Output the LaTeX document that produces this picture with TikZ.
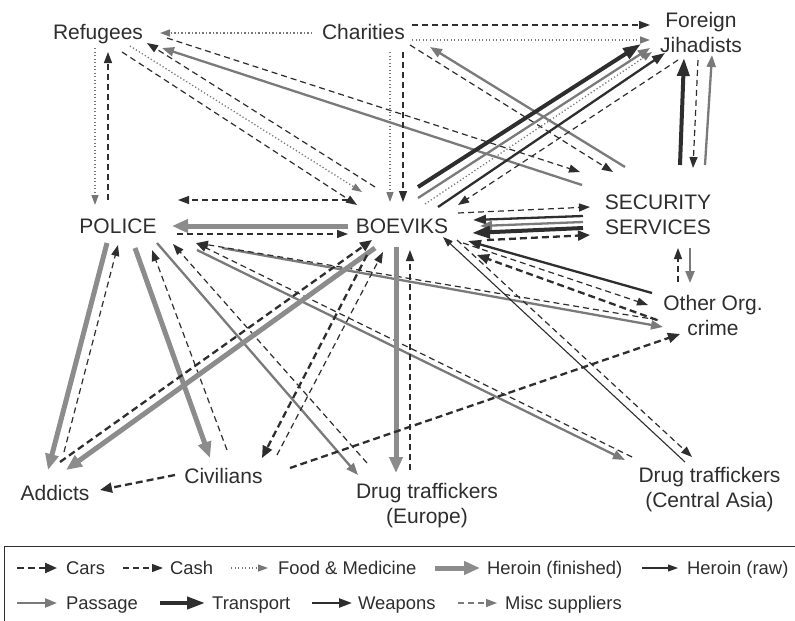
\documentclass[tikz,border=0pt]{standalone}
\usepackage{fontspec}
\setmainfont{Liberation Sans}
\usetikzlibrary{calc,arrows.meta}
\definecolor{dk}{HTML}{2E2E2E}
\definecolor{gh}{HTML}{8C8C8C}
\definecolor{gp}{HTML}{7A7A7A}
\definecolor{gf}{HTML}{777777}
\newcommand\cx[5]{\draw[#1] ($(#2)+(#3)$) -- ($(#4)+(#5)$);}
\begin{document}
\begin{tikzpicture}[x=1pt,y=-1pt,
  lbl/.style={inner sep=0pt,text=dk,font=\fontsize{21}{25}\selectfont},
  one/.style={lbl,anchor=base,text height=15.4pt,text depth=4.4pt},
  two/.style={lbl,align=center},
  cars/.style={dk,line width=2.3pt,dash pattern=on 7pt off 4pt,-{Triangle[length=12pt,width=10pt]}},
  cash/.style={dk,line width=1.2pt,dash pattern=on 6pt off 4pt,-{Triangle[length=11pt,width=8pt]}},
  food/.style={gf,line width=1.3pt,dash pattern=on 1.2pt off 2.3pt,-{Triangle[length=10pt,width=7pt]}},
  heroin/.style={gh,line width=5pt,-{Triangle[length=16pt,width=13pt]}},
  raw/.style={dk,line width=1.1pt,-{Triangle[length=10pt,width=7pt]}},
  passage/.style={gp,line width=2.3pt,-{Triangle[length=12pt,width=9pt]}},
  transport/.style={dk,line width=4pt,-{Triangle[length=18pt,width=12pt]}},
  weapons/.style={dk,line width=2.3pt,-{Triangle[length=13pt,width=9pt]}},
  misc/.style={gp,line width=1.2pt,dash pattern=on 6pt off 4pt,-{Triangle[length=11pt,width=8pt]}},
  leg/.style={inner sep=0pt,anchor=base west,text=dk,font=\fontsize{18.4}{22}\selectfont}]
\useasboundingbox (0,0) rectangle (795,621);
\fill[white] (0,0) rectangle (795,621);
% nodes
\node[one] (ref) at (98,39) {Refugees};
\node[one] (cha) at (363.5,39) {Charities};
\node[one] (pol) at (118,233) {POLICE};
\node[one] (boe) at (402,233) {BOEVIKS};
\node[one] (add) at (55,500) {Addicts};
\node[one] (civ) at (223.5,483) {Civilians};
\node[two] (fj) at (701,32) {Foreign\\Jihadists};
\node[two] (sec) at (658,215) {SECURITY\\SERVICES};
\node[two] (oth) at (713,315) {Other Org.\\crime};
\node[two] (dte) at (427,506) {Drug traffickers\\(Europe)};
\node[two] (dtc) at (709.5,490) {Drug traffickers\\(Central Asia)};
% connectors
\cx{food}{cha}{-51.5,-0.5}{ref}{62,-0.5}
\cx{food}{ref}{-3,14.5}{pol}{-23,-22.5}
\cx{cash}{pol}{-10,-27.5}{ref}{10,18.5}
\cx{cash}{ref}{24,18.5}{boe}{-45,-22.5}
\cx{food}{ref}{32,12.5}{boe}{-40,-35.5}
\cx{cash}{boe}{-27,-40.5}{ref}{49,9.5}
\cx{passage}{sec}{-76,-30}{ref}{64,14.5}
\cx{cash}{ref}{69,4.5}{sec}{-78,-43}
\cx{cash}{cha}{48.5,-8.5}{fj}{-51,-7}
\cx{food}{cha}{48.5,6.5}{fj}{-51,8}
\cx{food}{cha}{26.5,18.5}{boe}{-12,-25.5}
\cx{cash}{cha}{39.5,18.5}{boe}{1,-25.5}
\cx{cash}{cha}{46.5,11.5}{sec}{-45,-43}
\cx{passage}{sec}{-33,-48}{cha}{66.5,13.5}
\cx{transport}{boe}{16,-40.5}{fj}{-60,12}
\cx{passage}{boe}{16,-29.5}{fj}{-51,16}
\cx{food}{boe}{23,-23.5}{fj}{-49,20}
\cx{weapons}{boe}{36,-20.5}{fj}{-36,21}
\cx{cash}{fj}{-23,28}{boe}{56,-22.5}
\cx{transport}{sec}{22,-50}{fj}{-17,26}
\cx{cash}{fj}{-3,28}{sec}{35,-47}
\cx{passage}{sec}{47,-50}{fj}{11,23}
\cx{cash}{boe}{56,-14.5}{sec}{-68,-8}
\cx{weapons}{sec}{-75,1}{boe}{71,-7.5}
\cx{passage}{sec}{-75,7}{boe}{78,-1.5}
\cx{transport}{sec}{-75,13}{boe}{70,5.5}
\cx{cars}{boe}{85,12.5}{sec}{-68,20}
\cx{cash}{oth}{-35,-33}{sec}{20,33}
\cx{passage}{sec}{32,33}{oth}{-23,-32}
\cx{weapons}{oth}{-61,-22}{boe}{66,13.5}
\cx{cash}{boe}{61,15.5}{oth}{-65,-10}
\cx{cars}{oth}{-56,5}{boe}{75,27.5}
\cx{passage}{pol}{104,20.5}{oth}{-50,12}
\cx{cash}{oth}{-55,5}{pol}{79,15.5}
\cx{heroin}{pol}{-11,15.5}{add}{-7,-24.5}
\cx{cash}{add}{9,-42.5}{pol}{0,17.5}
\cx{heroin}{pol}{17,20.5}{civ}{-13.5,-19.5}
\cx{cash}{civ}{3.5,-27.5}{pol}{34,22.5}
\cx{passage}{pol}{39,15.5}{dte}{-69,-31}
\cx{cash}{dte}{-60,-43}{pol}{55,16.5}
\cx{passage}{pol}{79,22.5}{dtc}{-84.5,-30}
\cx{cash}{dtc}{-77.5,-33}{pol}{78,15.5}
\cx{cash}{boe}{-54,-27.5}{pol}{60,-27.5}
\cx{heroin}{boe}{-54,-1.5}{pol}{54,-1.5}
\cx{cash}{pol}{59,6.5}{boe}{-54,6.5}
\cx{cars}{add}{5,-32.5}{boe}{-30,12.5}
\cx{heroin}{boe}{-27,20.5}{add}{11,-24.5}
\cx{cars}{boe}{-35,27.5}{civ}{38.5,-19.5}
\cx{cash}{civ}{53.5,-22.5}{boe}{-19,24.5}
\cx{heroin}{boe}{-6,19.5}{dte}{-31,-33}
\cx{cash}{dte}{-17,-36}{boe}{8,22.5}
\cx{raw}{dtc}{-24.5,-28}{boe}{41,9.5}
\cx{cash}{boe}{55,12.5}{dtc}{-17.5,-33}
\cx{cars}{civ}{-48.5,-2.5}{add}{45,-4.5}
\cx{cars}{civ}{66.5,-9.5}{oth}{-33,19}
% legend
\draw[dk,line width=1pt] (4,546) rectangle (805,640);
\coordinate (l1a) at (17,568); \coordinate (l1b) at (57,568);
\draw[cars] (l1a) -- (l1b); \node[leg] (t1) at (66,574) {Cars};
\coordinate (l2a) at (123,568); \coordinate (l2b) at (163,568);
\draw[cash] (l2a) -- (l2b); \node[leg] (t2) at (170,574) {Cash};
\coordinate (l3a) at (231,568); \coordinate (l3b) at (268,568);
\draw[food] (l3a) -- (l3b); \node[leg] (t3) at (278,574) {Food \& Medicine};
\coordinate (l4a) at (435,568); \coordinate (l4b) at (480,568);
\draw[heroin] (l4a) -- (l4b); \node[leg] (t4) at (487,574) {Heroin (finished)};
\coordinate (l5a) at (642,568); \coordinate (l5b) at (678,568);
\draw[raw] (l5a) -- (l5b); \node[leg] (t5) at (687,574) {Heroin (raw)};
\coordinate (l6a) at (17,603); \coordinate (l6b) at (57,603);
\draw[passage] (l6a) -- (l6b); \node[leg] (t6) at (66,609) {Passage};
\coordinate (l7a) at (160,603); \coordinate (l7b) at (205,603);
\draw[transport] (l7a) -- (l7b); \node[leg] (t7) at (212,609) {Transport};
\coordinate (l8a) at (312,603); \coordinate (l8b) at (352,603);
\draw[weapons] (l8a) -- (l8b); \node[leg] (t8) at (358,609) {Weapons};
\coordinate (l9a) at (458,603); \coordinate (l9b) at (497,603);
\draw[misc] (l9a) -- (l9b); \node[leg] (t9) at (505,609) {Misc suppliers};
\end{tikzpicture}
\end{document}
